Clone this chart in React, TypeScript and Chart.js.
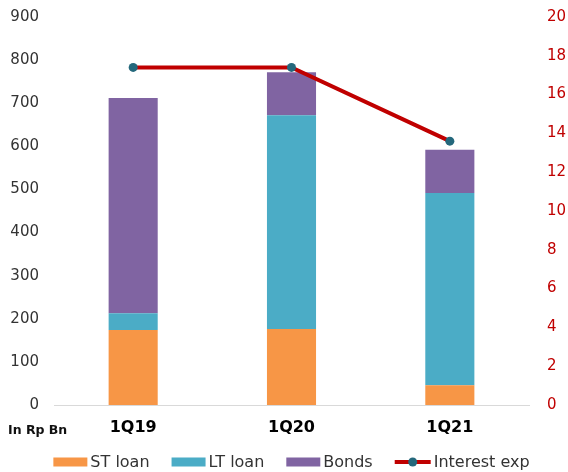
import React, { useEffect, useRef } from 'react';
import { Chart, registerables } from 'chart.js';

Chart.register(...registerables);

const categories = ['1Q19', '1Q20', '1Q21'];
const stLoan = [174, 176, 46];
const ltLoan = [39, 496, 446];
const bonds = [499, 100, 100];
const interestExp = [17.4, 17.4, 13.6];
const leftTicks = [0, 900, 100];
const rightTicks = [0, 20, 2];
const unitLabel = 'In Rp Bn';

const FONT = '"DejaVu Sans", Verdana, sans-serif';

const customLegend = {
  id: 'customLegend',
  afterDraw(chart: any) {
    const ctx = chart.ctx as CanvasRenderingContext2D;
    const area = chart.chartArea;
    ctx.save();
    ctx.font = `bold 12.5px ${FONT}`;
    ctx.fillStyle = '#111';
    ctx.textBaseline = 'middle';
    ctx.textAlign = 'left';
    ctx.fillText(unitLabel, 8, 431);

    ctx.font = `16px ${FONT}`;
    const boxW = 34, boxH = 9, lineW = 36, gap = 3, spacing = 22;
    const items = chart.data.datasets.map((ds: any) => ({
      label: ds.label,
      isLine: ds.type === 'line',
      color: ds.type === 'line' ? ds.borderColor : ds.backgroundColor,
      pointColor: ds.pointBackgroundColor,
    }));
    const widths = items.map((it: any) => (it.isLine ? lineW : boxW) + gap + ctx.measureText(it.label).width);
    const total = widths.reduce((a: number, b: number) => a + b, 0) + spacing * (items.length - 1);
    let x = (area.left + area.right) / 2 - total / 2;
    const y = 462;
    items.forEach((it: any, i: number) => {
      if (it.isLine) {
        ctx.strokeStyle = it.color;
        ctx.lineWidth = 4;
        ctx.beginPath();
        ctx.moveTo(x, y);
        ctx.lineTo(x + lineW, y);
        ctx.stroke();
        ctx.fillStyle = it.pointColor;
        ctx.beginPath();
        ctx.arc(x + lineW / 2, y, 4.5, 0, Math.PI * 2);
        ctx.fill();
        x += lineW + gap;
      } else {
        ctx.fillStyle = it.color;
        ctx.fillRect(x, y - boxH / 2, boxW, boxH);
        x += boxW + gap;
      }
      ctx.fillStyle = '#333';
      ctx.textBaseline = 'middle';
      ctx.fillText(it.label, x, y + 1);
      x += widths[i] - (it.isLine ? lineW : boxW) - gap + spacing;
    });
    ctx.restore();
  },
};

export default function App() {
  const ref = useRef<HTMLCanvasElement>(null);
  useEffect(() => {
    if (!ref.current) return;
    const chart = new Chart(ref.current, {
      type: 'bar',
      data: {
        labels: categories,
        datasets: [
          { type: 'bar', label: 'ST loan', data: stLoan, backgroundColor: '#F79646', yAxisID: 'y', order: 1, barPercentage: 0.31, categoryPercentage: 1 } as any,
          { type: 'bar', label: 'LT loan', data: ltLoan, backgroundColor: '#4BACC6', yAxisID: 'y', order: 1, barPercentage: 0.31, categoryPercentage: 1 } as any,
          { type: 'bar', label: 'Bonds', data: bonds, backgroundColor: '#8064A2', yAxisID: 'y', order: 1, barPercentage: 0.31, categoryPercentage: 1 } as any,
          {
            type: 'line', label: 'Interest exp', data: interestExp, yAxisID: 'y1', order: 0,
            borderColor: '#C00000', borderWidth: 4, pointRadius: 4.5, pointBackgroundColor: '#24687C',
            pointBorderColor: '#24687C', pointBorderWidth: 0, tension: 0,
          } as any,
        ],
      },
      options: {
        responsive: false,
        animation: false,
        devicePixelRatio: 1,
        layout: { padding: { left: 10, right: 2, top: 17, bottom: 36 } },
        plugins: { legend: { display: false }, tooltip: { enabled: false } },
        scales: {
          x: {
            stacked: true,
            grid: { display: false, drawTicks: false },
            border: { display: true, color: '#D9D9D9', width: 1 },
            ticks: { padding: 13, color: '#000', font: { family: FONT, size: 16, weight: 'bold' } },
            afterFit: (s: any) => { s.height = 31; },
          },
          y: {
            stacked: true,
            position: 'left',
            min: leftTicks[0], max: leftTicks[1],
            grid: { display: false, drawTicks: false },
            border: { display: false },
            ticks: { stepSize: leftTicks[2], padding: 15, color: '#333', font: { family: FONT, size: 15 } },
            afterFit: (s: any) => { s.width = 44; s.paddingTop = 0; s.paddingBottom = 0; },
          },
          y1: {
            position: 'right',
            min: rightTicks[0], max: rightTicks[1],
            grid: { display: false, drawTicks: false },
            border: { display: false },
            ticks: { stepSize: rightTicks[2], padding: 18, color: '#C00000', font: { family: FONT, size: 15 } },
            afterFit: (s: any) => { s.width = 37; s.paddingTop = 0; s.paddingBottom = 0; },
          },
        },
      },
      plugins: [customLegend],
    });
    return () => chart.destroy();
  }, []);
  return (
    <div style={{ position: 'fixed', left: 0, top: 0, width: 568, height: 472, background: '#fff' }}>
      <canvas ref={ref} width={568} height={472} />
    </div>
  );
}
